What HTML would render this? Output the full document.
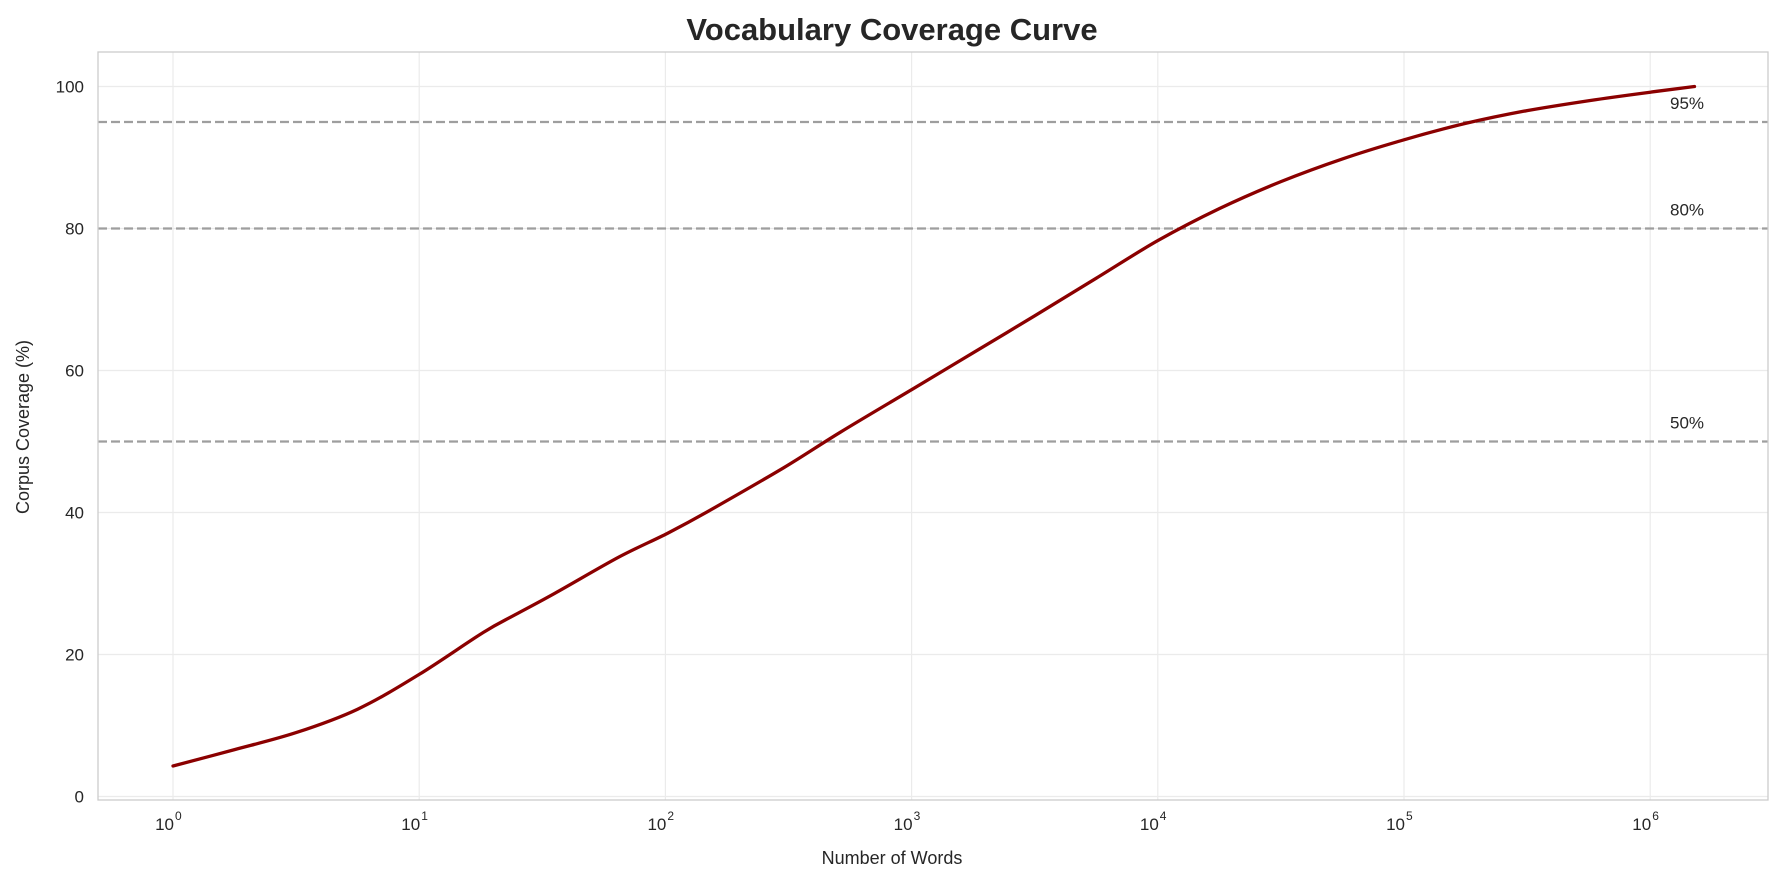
<!DOCTYPE html>
<html><head><meta charset="utf-8"><style>
html,body{margin:0;padding:0;background:#fff;}
svg{display:block;font-family:"Liberation Sans","DejaVu Sans",sans-serif;}
</style></head><body>
<svg id="s" width="1784" height="883" viewBox="0 0 1784 883" xmlns="http://www.w3.org/2000/svg">
<rect x="0" y="0" width="1784" height="883" fill="#fff"/>
<g id="grid" stroke="#ebebeb" stroke-width="1.2"></g>
<g id="dash" stroke="#9e9e9e" stroke-width="2.2" stroke-dasharray="9,4"></g>
<rect x="98" y="52" width="1670" height="748" fill="none" stroke="#cccccc" stroke-width="1.3"/>
<path id="curve" fill="none" stroke="#8b0000" stroke-width="3.3" stroke-linejoin="round" stroke-linecap="round"/>
<g id="labels" fill="#262626" font-size="17"></g>
<text x="892" y="40" text-anchor="middle" font-size="31" font-weight="bold" fill="#262626">Vocabulary Coverage Curve</text>
<text x="892" y="864" text-anchor="middle" font-size="18" fill="#262626">Number of Words</text>
<text transform="translate(29,427) rotate(-90)" text-anchor="middle" font-size="18" fill="#262626">Corpus Coverage (%)</text>
</svg>
<script>
var X=function(d){return 173+246.2*d;}, Y=function(p){return 796.5-7.1*p;};
var ns="http://www.w3.org/2000/svg";
function el(p,t,a,txt){var e=document.createElementNS(ns,t);for(var k in a)e.setAttribute(k,a[k]);if(txt!==undefined)e.textContent=txt;p.appendChild(e);return e;}
var g=document.getElementById('grid'),L=document.getElementById('labels'),D=document.getElementById('dash');
for(var d=0;d<=6;d++){var x=X(d);el(g,'line',{x1:x,x2:x,y1:52,y2:800});
 el(L,'text',{x:x+1,y:830,'text-anchor':'end'},'10');
 el(L,'text',{x:x+2,y:820,'font-size':'12'},String(d));}
for(var p=0;p<=100;p+=20){var y=Y(p);el(g,'line',{x1:98,x2:1768,y1:y,y2:y});
 el(L,'text',{x:84,y:y+6,'text-anchor':'end'},String(p));}
[[95,'95%'],[80,'80%'],[50,'50%']].forEach(function(a){var y=Y(a[0]);
 el(D,'line',{x1:98,x2:1768,y1:y,y2:y});
 el(L,'text',{x:1670,y:y-13},a[1]);});
var pts=[[0,4.3],[0.25,6.6],[0.5,9.0],[0.75,12.3],[1,17.2],[1.26,23.1],[1.39,25.6],[1.55,28.6],[1.81,33.7],[2.01,37.1],[2.17,40.1],[2.48,46.3],[2.71,51.3],[3,57.3],[3.25,62.5],[3.5,67.7],[3.75,73.0],[4,78.3],[4.25,82.8],[4.5,86.6],[4.75,89.8],[5,92.5],[5.25,94.8],[5.5,96.6],[5.75,98.0],[6,99.2],[6.18,100]];
var P=pts.map(function(q){return [X(q[0]),Y(q[1])];});
var s='M'+P[0][0].toFixed(1)+','+P[0][1].toFixed(1);
for(var i=0;i<P.length-1;i++){var p0=P[Math.max(i-1,0)],p1=P[i],p2=P[i+1],p3=P[Math.min(i+2,P.length-1)];
 var c1=[p1[0]+(p2[0]-p0[0])/6,p1[1]+(p2[1]-p0[1])/6],c2=[p2[0]-(p3[0]-p1[0])/6,p2[1]-(p3[1]-p1[1])/6];
 s+=' C'+c1[0].toFixed(1)+','+c1[1].toFixed(1)+' '+c2[0].toFixed(1)+','+c2[1].toFixed(1)+' '+p2[0].toFixed(1)+','+p2[1].toFixed(1);}
document.getElementById('curve').setAttribute('d',s);
</script>
</body></html>
